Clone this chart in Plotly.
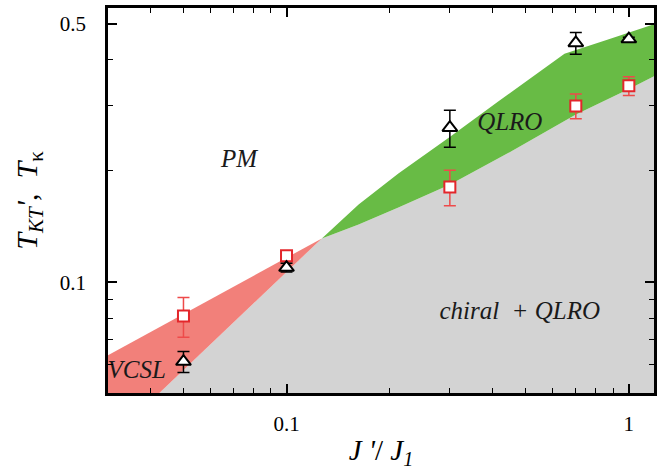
import plotly.graph_objects as go

# ---- data ----
jx = [0.05, 0.1, 0.3, 0.7, 1.0]
t_kt = [0.061, 0.1096, 0.262, 0.444, 0.455]
t_kt_err = [0.004, 0.003, 0.030, 0.030, 0.005]
t_kappa = [0.081, 0.118, 0.181, 0.300, 0.340]
t_kappa_err = [0.010, 0.003, 0.020, 0.023, 0.020]

# phase boundaries
red_x = [0.029, 0.1268, 0.0414, 0.029]
red_y = [0.0623, 0.1314, 0.049, 0.049]
green_up_x = [0.1268, 0.1624, 0.2122, 0.3005, 0.4143, 0.6486, 0.865, 1.192, 1.25]
green_up_y = [0.1314, 0.1624, 0.1968, 0.2477, 0.3080, 0.4149, 0.4527, 0.500, 0.508]
green_lo_x = [0.1268, 0.1624, 0.2122, 0.3005, 0.4581, 0.6982, 1.004, 1.192, 1.25]
green_lo_y = [0.1314, 0.1434, 0.1594, 0.1838, 0.2271, 0.2841, 0.3338, 0.3619, 0.371]
gray_x = [0.0414] + green_lo_x + [1.25, 0.0414]
gray_y = [0.049] + green_lo_y + [0.049, 0.049]

labels = ["<i>PM</i>", "<i>QLRO</i>", "<i>chiral  + QLRO</i>", "<i>VCSL</i>"]
label_x = [0.0727, 0.449, 0.48, 0.0365]
label_y = [0.2134, 0.2686, 0.0825, 0.0571]

x_major = [0.1, 1]
x_major_text = ["0.1", "1"]
x_minor = [0.04, 0.05, 0.06, 0.07, 0.08, 0.09, 0.2, 0.3, 0.4, 0.5, 0.6, 0.7, 0.8, 0.9]
y_major = [0.1, 0.5]
y_major_text = ["0.1", "0.5"]
y_minor = [0.06, 0.07, 0.08, 0.09, 0.2, 0.3, 0.4]

FONT = "Liberation Serif"
GRAY = "#d3d3d3"
RED_FILL = "#f2807a"
GREEN_FILL = "#68bb45"
RED = "#e3262b"

fig = go.Figure()
fig.add_trace(go.Scatter(x=gray_x, y=gray_y, fill="toself", mode="none",
                         fillcolor=GRAY, hoverinfo="skip", showlegend=False))
fig.add_trace(go.Scatter(x=red_x, y=red_y, fill="toself", mode="none",
                         fillcolor=RED_FILL, hoverinfo="skip", showlegend=False))
fig.add_trace(go.Scatter(x=green_up_x + green_lo_x[::-1], y=green_up_y + green_lo_y[::-1],
                         fill="toself", mode="none", fillcolor=GREEN_FILL,
                         hoverinfo="skip", showlegend=False))

fig.add_trace(go.Scatter(
    x=jx, y=t_kappa, mode="markers", showlegend=False,
    marker=dict(symbol="square", size=11, color="white", line=dict(color=RED, width=2)),
    error_y=dict(type="data", array=t_kappa_err, color="#ee4a4a", thickness=1.5, width=6)))
fig.add_trace(go.Scatter(
    x=jx, y=t_kt, mode="markers", showlegend=False,
    marker=dict(symbol="triangle-up", size=13, color="white", line=dict(color="black", width=2)),
    error_y=dict(type="data", array=t_kt_err, color="black", thickness=1.5, width=6)))

fig.add_trace(go.Scatter(x=label_x, y=label_y, mode="text", text=labels, showlegend=False,
                         textfont=dict(family=FONT, size=25, color="#1a1a1a"),
                         hoverinfo="skip"))

axis_common = dict(type="log", showgrid=False, zeroline=False, showline=True,
                   linewidth=2.5, linecolor="black", mirror="ticks", ticks="inside",
                   tickwidth=1.5, tickcolor="black", ticklen=9,
                   tickfont=dict(family=FONT, size=21, color="black"))

fig.update_xaxes(**axis_common, range=[-1.5215, 0.0735], tickmode="array",
                 tickvals=x_major, ticktext=x_major_text, ticklabelstandoff=10,
                 minor=dict(tickmode="array", tickvals=x_minor, ticks="inside", ticklen=5,
                            tickwidth=1, tickcolor="black", showgrid=False),
                 title=dict(text="<i>J</i> <i>'</i>/ <i>J</i><sub><i>1</i></sub>",
                            font=dict(family=FONT, size=29, color="black"), standoff=5))
fig.update_yaxes(**axis_common, range=[-1.2996, -0.258], tickmode="array",
                 tickvals=y_major, ticktext=y_major_text, ticklabelstandoff=15,
                 minor=dict(tickmode="array", tickvals=y_minor, ticks="inside", ticklen=5,
                            tickwidth=1, tickcolor="black", showgrid=False),
                 title=dict(text="<i>T</i><sub><i>KT</i></sub><i>'</i>,  <i>T</i><sub>κ</sub>",
                            font=dict(family=FONT, size=30, color="black"), standoff=14))

fig.update_layout(width=662, height=474, margin=dict(l=108, r=5, t=7, b=81),
                  plot_bgcolor="white", paper_bgcolor="white")

fig.write_html("out.html")
